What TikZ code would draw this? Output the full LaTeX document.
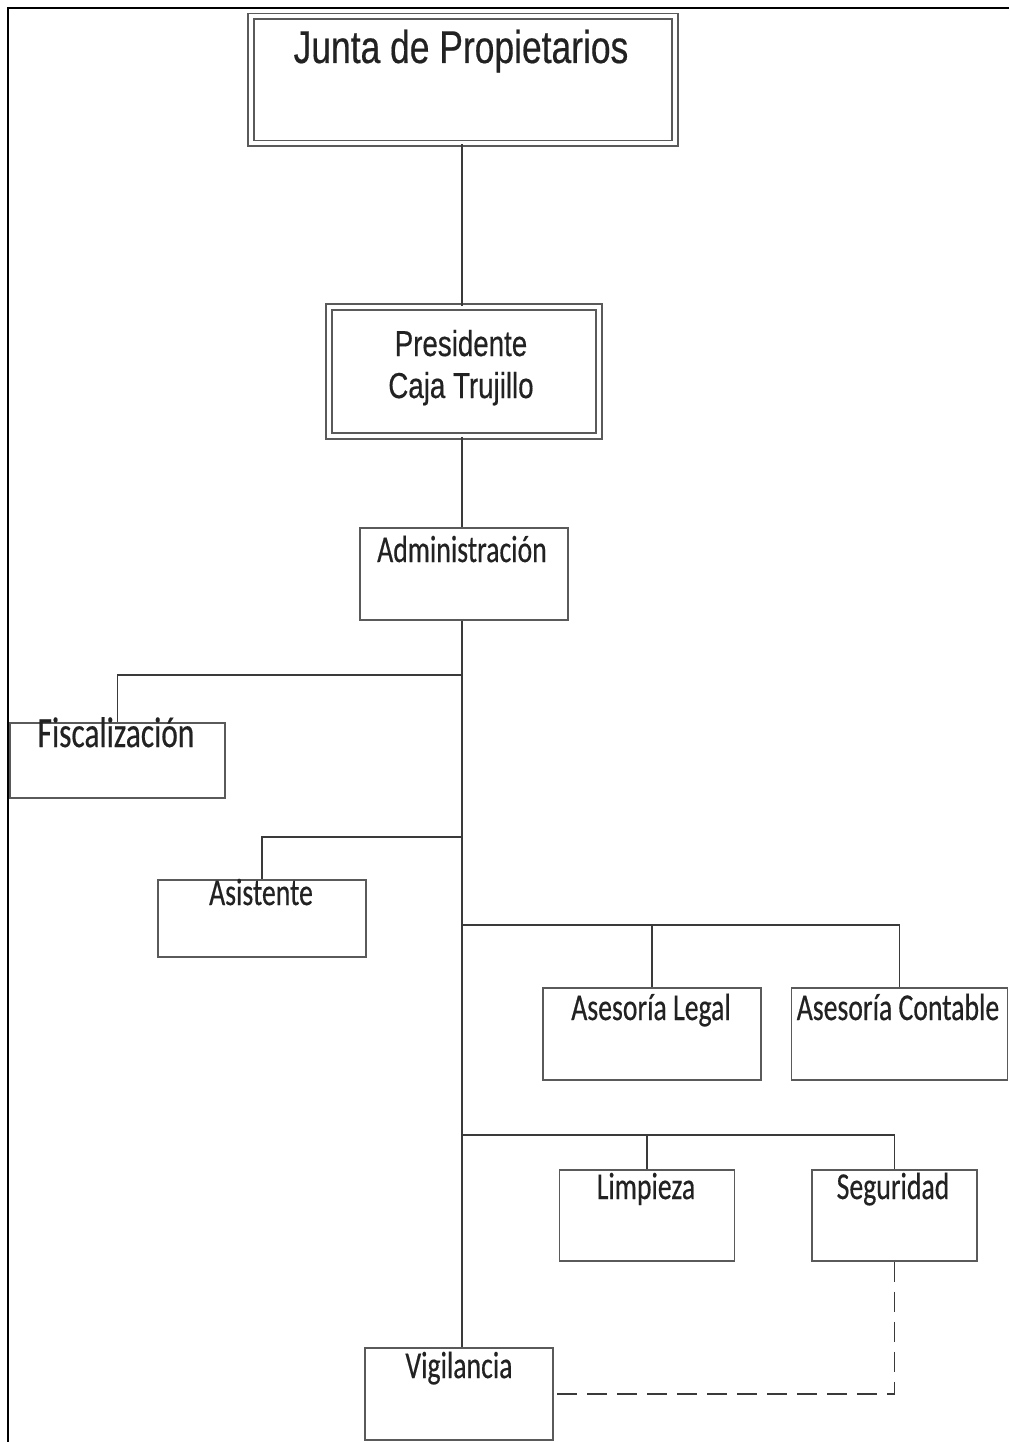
\documentclass[tikz,border=0pt]{standalone}
\usepackage{fontspec}
\newfontfamily\headfont[FakeStretch=0.77,FakeBold=0.4]{Liberation Sans}
\newfontfamily\lblfont[FakeStretch=0.73,FakeBold=0.4]{Carlito}
\definecolor{boxgray}{HTML}{5A5A5A}
\definecolor{linegray}{HTML}{3A3A3A}
\definecolor{inkgray}{HTML}{222222}
\begin{document}
\begin{tikzpicture}[x=1pt,y=-1pt,
  box/.style={draw=boxgray, line width=1.8pt, inner sep=0pt, fill=none},
  dbox/.style={draw=boxgray, double=white, double distance=4pt, line width=1.6pt, inner sep=0pt},
  conn/.style={draw=linegray, line width=1.9pt},
  dashconn/.style={draw=linegray, line width=1.9pt, dash pattern=on 20pt off 10pt},
  frameline/.style={draw=black, line width=2.8pt},
  head/.style={text=inkgray, inner sep=0pt, anchor=base, font=\headfont\fontsize{46}{48}\selectfont},
  subhead/.style={text=inkgray, inner sep=0pt, anchor=base, font=\headfont\fontsize{36}{38}\selectfont},
  lbl/.style={text=inkgray, inner sep=0pt, anchor=base, font=\lblfont\fontsize{38}{40}\selectfont}]
  \useasboundingbox[fill=white] (0,0) rectangle (1009,1442);

  % outer frame (top and left edges)
  \coordinate (frtl) at (8,8);
  \coordinate (frtr) at (1009,8);
  \coordinate (frbl) at (8,1442);
  \draw[frameline] (frtr) -- (frtl) -- (frbl);

  % main vertical axis
  \coordinate (trunk) at (462,0);

  % boxes
  \node[dbox, minimum width=424pt, minimum height=127pt] (junta) at (463,80) {};
  \node[dbox, minimum width=270pt, minimum height=129pt] (pres) at (464,371.5) {};
  \node[box, minimum width=208pt, minimum height=92pt] (admin) at (464,574) {};
  \node[box, minimum width=215pt, minimum height=75pt] (fisc) at (117.5,760.5) {};
  \node[box, minimum width=208pt, minimum height=77pt] (asis) at (262,918.5) {};
  \node[box, minimum width=218pt, minimum height=92pt] (legal) at (652,1034) {};
  \node[box, minimum width=216pt, minimum height=92pt] (cont) at (899.5,1034) {};
  \node[box, minimum width=175pt, minimum height=91pt] (limp) at (647,1215.5) {};
  \node[box, minimum width=165pt, minimum height=91pt] (seg) at (894.5,1215.5) {};
  \node[box, minimum width=188pt, minimum height=92pt] (vig) at (459,1394) {};

  % labels
  \node[head] (tjunta) at (461,63) {Junta de Propietarios};
  \node[subhead] (tpres1) at (461,356) {Presidente};
  \node[subhead] (tpres2) at (461,398) {Caja Trujillo};
  \node[lbl] (tadmin) at (462,562) {Administración};
  \node[lbl, font=\lblfont\fontsize{43}{45}\selectfont] (tfisc) at (116,747) {Fiscalización};
  \node[lbl] (tasis) at (261,905) {Asistente};
  \node[lbl] (tlegal) at (651,1020) {Asesoría Legal};
  \node[lbl] (tcont) at (898,1020) {Asesoría Contable};
  \node[lbl] (tlimp) at (646,1199) {Limpieza};
  \node[lbl] (tseg) at (893,1199) {Seguridad};
  \node[lbl] (tvig) at (459,1378) {Vigilancia};

  % branch points on the axis
  \coordinate (bf) at (462,675);
  \coordinate (ba) at (462,837);
  \coordinate (bl) at (462,925);
  \coordinate (bs) at (462,1135);

  % connectors
  \draw[conn] (junta.south -| trunk) -- (pres.north -| trunk);
  \draw[conn] (pres.south -| trunk) -- (admin.north -| trunk);
  \draw[conn] (admin.south -| trunk) -- (vig.north -| trunk);
  \draw[conn] (bf) -| (fisc.north);
  \draw[conn] (ba) -| (asis.north);
  \draw[conn] (bl) -| (cont.north);
  \draw[conn] (legal.north) -- (legal.north |- bl);
  \draw[conn] (bs) -| (seg.north);
  \draw[conn] (limp.north) -- (limp.north |- bs);
  \draw[dashconn] (seg.south) |- (vig.east);
\end{tikzpicture}
\end{document}
